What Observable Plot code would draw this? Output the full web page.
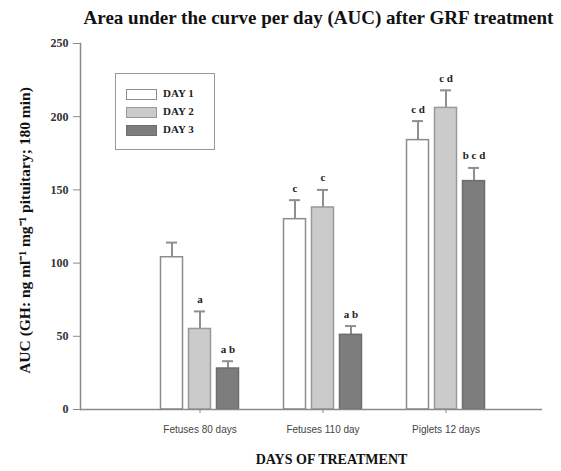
<!DOCTYPE html>
<html>
<head>
<meta charset="utf-8">
<script src="https://cdn.jsdelivr.net/npm/d3@7"></script>
<script src="https://cdn.jsdelivr.net/npm/@observablehq/plot@0.6"></script>
<style>
  body { margin: 0; background: #fff; }
  #wrap { position: relative; width: 561px; height: 471px; overflow: hidden; }
  #title { height: 30px; line-height: 36px; padding-left: 76px; text-align: center;
    font-family: "Liberation Serif", serif; font-weight: bold; font-size: 19px; color: #111; white-space: nowrap; }
  #legend { position: absolute; left: 115px; top: 73px; width: 100px; height: 77px;
    border: 1.5px solid #999; box-sizing: border-box; background: #fff; }
  .row { position: absolute; left: 10px; height: 11px; }
  .sw { position: absolute; left: 0; top: 0; width: 31px; height: 11px; box-sizing: border-box; border: 1.5px solid #888; }
  .lab { position: absolute; left: 37px; top: -2px; font-family: "Liberation Serif", serif; font-weight: bold; font-size: 11px; color: #222; white-space: nowrap; }
</style>
</head>
<body>
<div id="wrap">
  <div id="title">Area under the curve per day (AUC) after GRF treatment</div>
  <div id="chart"></div>
  <div id="legend"></div>
</div>
<script>
const groups = ["Fetuses 80 days", "Fetuses 110 day", "Piglets 12 days"];
const days = ["DAY 1", "DAY 2", "DAY 3"];
const day1Values = [104, 130, 184];
const day1Errors = [114, 143, 197];
const day2Values = [55, 138, 206];
const day2Errors = [67, 150, 218];
const day3Values = [28, 51, 156];
const day3Errors = [33, 57, 165];
const day1Letters = ["", "c", "c d"];
const day2Letters = ["a", "c", "c d"];
const day3Letters = ["a b", "a b", "b c d"];
const yTicks = [0, 50, 100, 150, 200, 250];

const fills = ["#ffffff", "#cbcbcb", "#7d7d7d"];
const strokes = ["#8c8c8c", "#999999", "#6e6e6e"];
const offsets = [-28, 0, 28];

const series = [
  [day1Values, day1Errors, day1Letters],
  [day2Values, day2Errors, day2Letters],
  [day3Values, day3Errors, day3Letters]
];

const marks = [];
const bandWidth = 123, barW = 22, capW = 11;
series.forEach(([vals, errs, lets], i) => {
  const rows = groups.map((g, j) => ({group: g, day: days[i], value: vals[j], err: errs[j], label: lets[j]}));
  marks.push(Plot.ruleX(rows, {x: "group", y1: "value", y2: "err", dx: offsets[i], stroke: "#8f8f8f", strokeWidth: 2}));
  marks.push(Plot.tickY(rows, {x: "group", y: "err", dx: offsets[i], stroke: "#8f8f8f", strokeWidth: 2,
    insetLeft: (bandWidth - capW) / 2, insetRight: (bandWidth - capW) / 2}));
  marks.push(Plot.barY(rows, {x: "group", y: "value", dx: offsets[i], fill: fills[i], stroke: strokes[i], strokeWidth: 1.5,
    insetLeft: (bandWidth - barW) / 2, insetRight: (bandWidth - barW) / 2}));
  marks.push(Plot.text(rows, {x: "group", y: "err", text: "label", dx: offsets[i], dy: -12,
    fontFamily: "Liberation Serif", fontWeight: "bold", fontSize: 11, fill: "#222"}));
});

const chart = Plot.plot({
  width: 561,
  height: 441,
  marginTop: 13,
  marginBottom: 62,
  marginLeft: 80,
  marginRight: 19,
  style: {background: "#fff", color: "#333"},
  x: {domain: groups, range: [137.5, 137.5 + 3 * bandWidth], padding: 0, label: null, axis: null},
  y: {domain: [0, 250], label: null, axis: null},
  marks: [
    ...marks,
    Plot.ruleY([0], {stroke: "#8a8a8a", strokeWidth: 1.5}),
    Plot.frame({anchor: "left", stroke: "#8a8a8a", strokeWidth: 1.5}),
    Plot.axisY({ticks: yTicks, tickSize: 7, tickPadding: 5, stroke: "#8a8a8a", fill: "#333",
      fontFamily: "Liberation Serif", fontWeight: "bold", fontSize: 12, label: null}),
    Plot.axisX({tickSize: 4, tickPadding: 12, stroke: "#8a8a8a", fill: "#444",
      fontFamily: "Liberation Sans", fontSize: 10, label: null}),
    Plot.text(["DAYS OF TREATMENT"], {frameAnchor: "bottom", dx: 20, dy: 54,
      fontFamily: "Liberation Serif", fontWeight: "bold", fontSize: 14, fill: "#111"}),
    Plot.text(["AUC (GH: ng ml\u207B\u00B9 mg\u207B\u00B9 pituitary; 180 min)"], {frameAnchor: "left", textAnchor: "middle",
      dx: -55, dy: 4, rotate: -90,
      fontFamily: "Liberation Serif", fontWeight: "bold", fontSize: 15.5, fill: "#111"})
  ]
});
document.getElementById("chart").appendChild(chart);

const legend = document.getElementById("legend");
days.forEach((d, i) => {
  const row = document.createElement("div");
  row.className = "row";
  row.style.top = (15 + i * 18) + "px";
  row.innerHTML = `<div class="sw" style="background:${fills[i]};border-color:${strokes[i]}"></div><div class="lab">${d}</div>`;
  legend.appendChild(row);
});
</script>
</body>
</html>
